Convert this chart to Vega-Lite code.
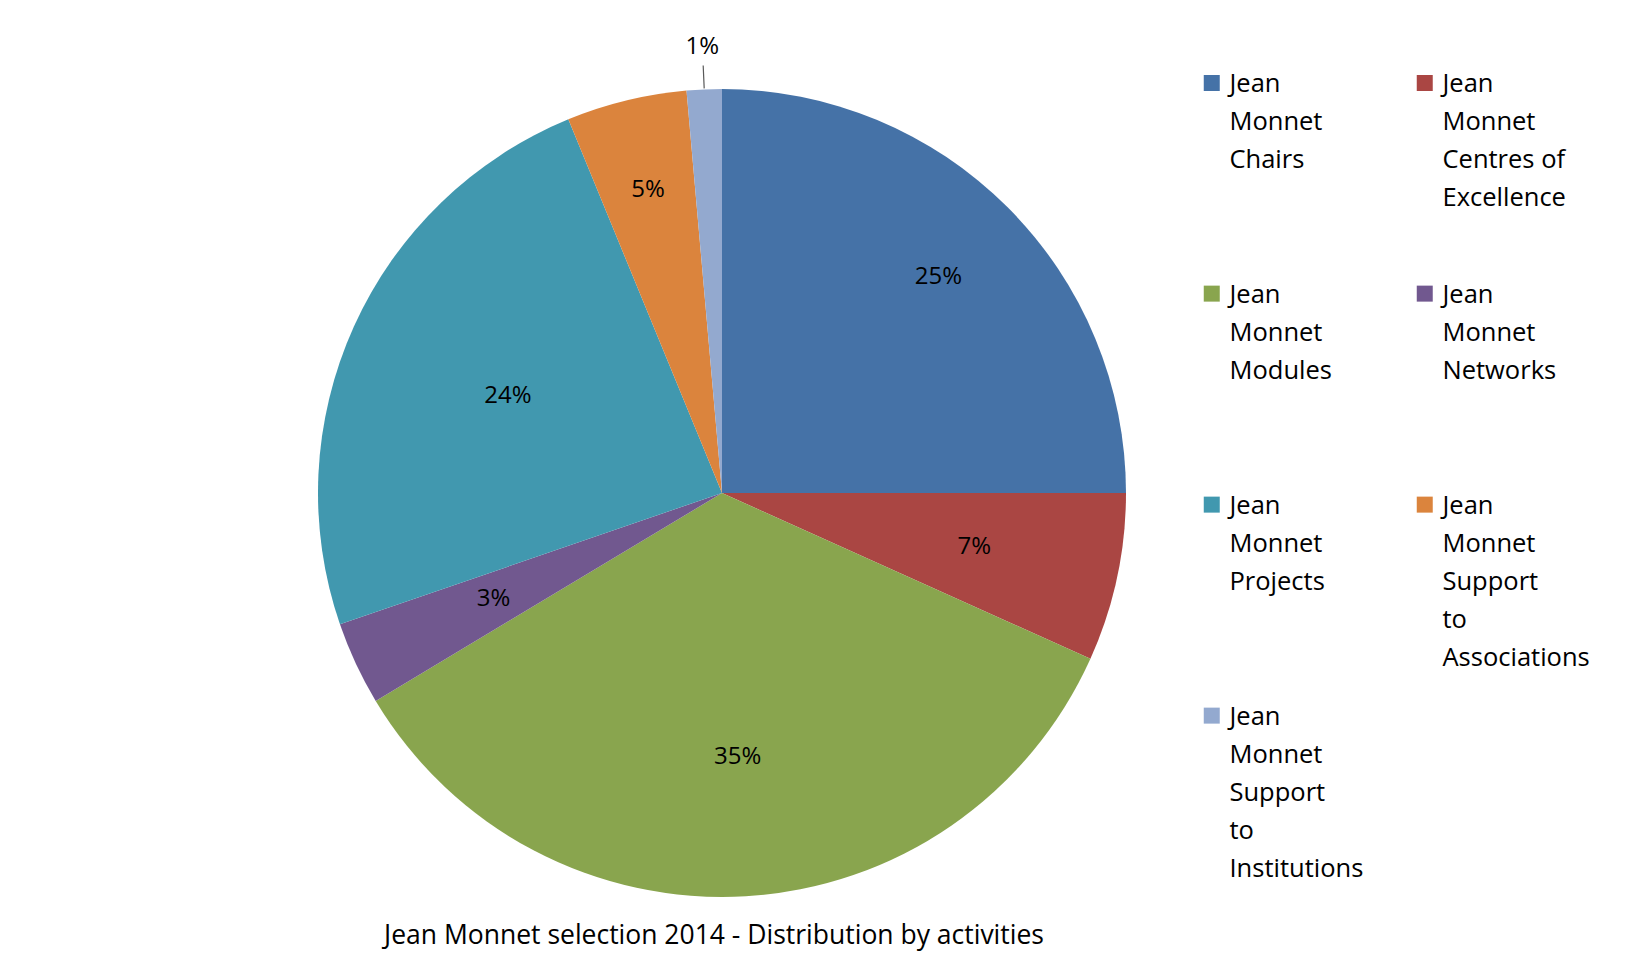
{
  "$schema": "https://vega.github.io/schema/vega-lite/v6.json",
  "width": 808,
  "height": 822,
  "padding": {"left": 318, "top": 82, "right": 499, "bottom": 72},
  "autosize": {"type": "none"},
  "background": "white",
  "title": {
    "text": "Jean Monnet selection 2014 - Distribution by activities",
    "orient": "bottom",
    "anchor": "middle",
    "frame": "group",
    "offset": 1.5,
    "dx": -8,
    "font": "Open Sans",
    "fontSize": 26.5,
    "fontWeight": "normal",
    "color": "#000000"
  },
  "data": {
    "values": [
      {"activity": "Jean Monnet Chairs", "share": 0.25},
      {"activity": "Jean Monnet Centres of Excellence", "share": 0.0673},
      {"activity": "Jean Monnet Modules", "share": 0.3466},
      {"activity": "Jean Monnet Networks", "share": 0.0334},
      {"activity": "Jean Monnet Projects", "share": 0.2406},
      {"activity": "Jean Monnet Support to Associations", "share": 0.0481},
      {"activity": "Jean Monnet Support to Institutions", "share": 0.014}
    ]
  },
  "transform": [{"window": [{"op": "row_number", "as": "idx"}]}],
  "encoding": {
    "theta": {"field": "share", "type": "quantitative", "stack": true},
    "order": {"field": "idx", "type": "quantitative"},
    "color": {
      "field": "activity",
      "type": "nominal",
      "sort": null,
      "scale": {
        "domain": [
          "Jean Monnet Chairs",
          "Jean Monnet Centres of Excellence",
          "Jean Monnet Modules",
          "Jean Monnet Networks",
          "Jean Monnet Projects",
          "Jean Monnet Support to Associations",
          "Jean Monnet Support to Institutions"
        ],
        "range": ["#4572A7", "#AA4643", "#89A54E", "#71588F", "#4198AF", "#DB843D", "#93A9CF"]
      },
      "legend": {
        "title": null,
        "orient": "none",
        "legendX": 881,
        "legendY": -23,
        "direction": "horizontal",
        "padding": 0,
        "columns": 2,
        "gridAlign": "all",
        "columnPadding": 35,
        "rowPadding": 20,
        "symbolType": "M-1,0.36H1V2.36H-1Z",
        "symbolSize": 256,
        "symbolStrokeWidth": 0,
        "symbolOpacity": 1,
        "labelFont": "Open Sans",
        "labelFontSize": 25.5,
        "labelColor": "#000000",
        "labelLimit": 300,
        "labelOffset": 5,
        "labelBaseline": "top",
        "labelExpr": "datum.label == 'Jean Monnet Chairs' ? ['Jean', 'Monnet', 'Chairs', '', ''] : datum.label == 'Jean Monnet Centres of Excellence' ? ['Jean', 'Monnet', 'Centres of', 'Excellence', ''] : datum.label == 'Jean Monnet Modules' ? ['Jean', 'Monnet', 'Modules', '', ''] : datum.label == 'Jean Monnet Networks' ? ['Jean', 'Monnet', 'Networks', '', ''] : datum.label == 'Jean Monnet Projects' ? ['Jean', 'Monnet', 'Projects', '', ''] : datum.label == 'Jean Monnet Support to Associations' ? ['Jean', 'Monnet', 'Support', 'to', 'Associations'] : ['Jean', 'Monnet', 'Support', 'to', 'Institutions']"
      }
    }
  },
  "layer": [
    {"mark": {"type": "arc", "radius": 404}},
    {
      "mark": {"type": "arc", "radius": 428, "radius2": 405, "padAngle": 0.3, "fillOpacity": 0, "stroke": "#595959", "strokeWidth": 1.2},
      "encoding": {
        "strokeOpacity": {"condition": {"test": "datum.share < 0.02", "value": 1}, "value": 0}
      }
    },
    {
      "mark": {
        "type": "text",
        "font": "Open Sans",
        "fontSize": 24,
        "radius": {"expr": "datum.share < 0.02 ? 446 : datum.share == 0.25 ? 306 : datum.share > 0.3 ? 264 : (datum.share > 0.2 && datum.share < 0.245) ? 235 : (datum.share > 0.04 && datum.share < 0.06) ? 312 : (datum.share > 0.03 && datum.share < 0.04) ? 252 : 258"}
      },
      "encoding": {
        "color": {"value": "#000000"},
        "detail": {"field": "activity", "type": "nominal"},
        "text": {"field": "share", "type": "quantitative", "format": ".0%"}
      }
    }
  ],
  "config": {
    "view": {"stroke": null},
    "style": {"guide-label": {"lineHeight": 38}}
  }
}
